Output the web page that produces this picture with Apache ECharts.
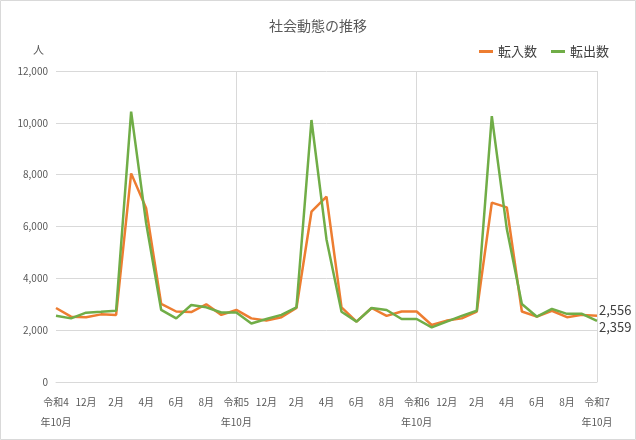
<!DOCTYPE html>
<html><head><meta charset="utf-8">
<script src="https://cdn.jsdelivr.net/npm/echarts@6/dist/echarts.min.js"></script>
<style>body{margin:0}#chart{width:636px;height:440px}</style>
</head><body><div id="chart"></div>
<script>
const months = [];
// 令和4年10月 .. 令和7年10月
const startYear = 4;
for (let i = 0; i < 37; i++) {
	const m = ((9 + i) % 12) + 1;
	const y = startYear + Math.floor((9 + i) / 12);
	months.push(m === 10 ? '令和' + y + '\n年10月' : m + '月');
}
const tennyu = [2855, 2520, 2500, 2610, 2590, 8050, 6700, 3010, 2720, 2700, 3000, 2590,
	2780, 2455, 2370, 2500, 2855, 6570, 7150, 2880, 2330, 2855, 2550, 2720,
	2720, 2200, 2370, 2455, 2720, 6920, 6740, 2720, 2520, 2750, 2500, 2590, 2556];
const tenshutsu = [2560, 2455, 2675, 2710, 2750, 10430, 6120, 2780, 2455, 2970, 2880, 2680,
	2680, 2260, 2430, 2590, 2880, 10110, 5500, 2710, 2330, 2855, 2780, 2430,
	2430, 2110, 2330, 2550, 2750, 10260, 5900, 3010, 2520, 2820, 2630, 2630, 2359];

const chart = echarts.init(document.getElementById('chart'));
const font = '"Noto Sans CJK JP", sans-serif';
chart.setOption({
	textStyle: { fontFamily: font },
	title: { text: '社会動態の推移', left: 'center', top: 14,
		textStyle: { fontSize: 14, fontWeight: 'normal', color: '#595959', fontFamily: font } },
	legend: { right: 22, top: 40, itemWidth: 14, itemHeight: 3, itemGap: 14,
		icon: 'rect', textStyle: { fontSize: 13, color: '#404040' } },
	graphic: [
		{ type: 'rect', shape: { x: 0.5, y: 0.5, width: 635, height: 439 },
			style: { fill: 'none', stroke: '#d9d9d9' } },
		{ type: 'text', left: 33, top: 44, style: { text: '人', fontSize: 11, fill: '#595959', fontFamily: font } }
	],
	grid: { left: 56, right: 39, top: 71, bottom: 58 },
	xAxis: {
		type: 'category', data: months, boundaryGap: false,
		axisLine: { lineStyle: { color: '#d9d9d9' } },
		axisTick: { show: false },
		axisLabel: { interval: 1, color: '#595959', fontSize: 10, lineHeight: 20, margin: 10 },
		splitLine: { show: true, interval: (i) => i % 12 === 0 && i > 0, lineStyle: { color: '#d9d9d9' } }
	},
	yAxis: {
		type: 'value', min: 0, max: 12000, interval: 2000,
		axisLabel: { color: '#595959', fontSize: 10, formatter: (v) => v.toLocaleString('en-US') },
		splitLine: { lineStyle: { color: '#d9d9d9' } }
	},
	series: [
		{ name: '転入数', type: 'line', data: tennyu, symbol: 'none', color: '#ED7D31',
			lineStyle: { width: 2.5 },
			endLabel: { show: true, formatter: (p) => p.value.toLocaleString('en-US'),
				color: '#404040', fontSize: 13, distance: 2, offset: [0, -6] } },
		{ name: '転出数', type: 'line', data: tenshutsu, symbol: 'none', color: '#70AD47',
			lineStyle: { width: 2.5 },
			endLabel: { show: true, formatter: (p) => p.value.toLocaleString('en-US'),
				color: '#404040', fontSize: 13, distance: 2, offset: [0, 6] } }
	]
});
</script></body></html>
